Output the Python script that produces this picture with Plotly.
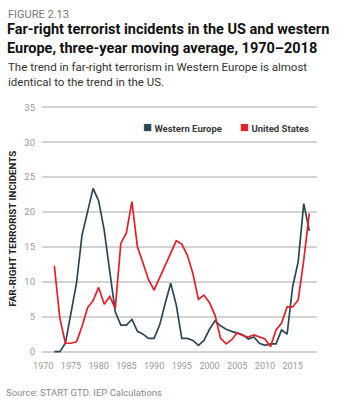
import plotly.graph_objects as go

years = list(range(1972, 2019))
western_europe = [0, 0, 1.2, 5.3, 9.8, 16.7, 20.3, 23.4, 21.6, 17.4,
                  11.5, 5.7, 3.8, 3.8, 4.6, 2.9, 2.5, 1.9, 1.9, 3.8,
                  6.9, 9.8, 6.7, 1.9, 1.9, 1.6, 0.9, 1.6, 3.2, 4.4,
                  3.7, 3.2, 2.9, 2.7, 2.4, 1.8, 2.1, 1.2, 0.9, 1.1,
                  1.1, 3.1, 2.5, 9.3, 12.9, 21.2, 17.3]
united_states = [12.3, 4.8, 1.2, 1.2, 1.4, 3.6, 6.3, 7.3, 9.2, 6.8,
                 7.9, 6.2, 15.5, 17.0, 21.5, 15.0, 12.7, 10.3, 8.8, 10.5,
                 12.2, 14.1, 15.9, 15.4, 13.8, 11.2, 7.5, 8.1, 7.0, 5.2,
                 1.9, 1.1, 1.7, 2.7, 2.3, 2.1, 2.4, 2.1, 1.8, 0.7,
                 3.1, 4.1, 6.4, 6.4, 7.4, 13.1, 19.8]
series_names = ["Western Europe", "United States"]
series_colors = ["#2c4656", "#e2202a"]
x_ticks = [1970, 1975, 1980, 1985, 1990, 1995, 2000, 2005, 2010, 2015]
y_ticks = [0, 5, 10, 15, 20, 25, 30, 35]

FIG_W, FIG_H = 354, 404
L, R, T, B = 41.7, 37.3, 105.9, 50.9
PW, PH = FIG_W - L - R, FIG_H - T - B


def px(x):
    return (x - L) / PW


def py(y):
    return ((FIG_H - B) - y) / PH


fig = go.Figure()
for name, vals, col in zip(series_names, [western_europe, united_states], series_colors):
    fig.add_trace(go.Scatter(x=years, y=vals, mode="lines", name=name,
                             line=dict(color=col, width=1.7), showlegend=False))

font = "Roboto, Arial, sans-serif"
ann = []
ann.append(dict(text="FIGURE 2.13", x=px(6), y=py(14), font=dict(size=11, color="#777777", family=font)))
ann.append(dict(text="<b>Far-right terrorist incidents in the US and western<br>Europe, three-year moving average, 1970–2018</b>",
                x=px(5), y=py(39), font=dict(size=14.5, color="#111111", family=font)))
ann.append(dict(text="The trend in far-right terrorism in Western Europe is almost<br>identical to the trend in the US.",
                x=px(6), y=py(74), font=dict(size=11.5, color="#333333", family=font)))
ann.append(dict(text="Source: START GTD. IEP Calculations", x=px(4), y=py(393),
                font=dict(size=9.5, color="#888888", family=font)))
ann.append(dict(text="<b>FAR-RIGHT TERRORIST INCIDENTS</b>", x=px(12.7), y=py(228.5), textangle=-90,
                xanchor="center", font=dict(size=9.8, color="#222222", family=font)))
legend_x = [141, 238]
for name, col, lx in zip(series_names, series_colors, legend_x):
    ann.append(dict(text=f'<span style="color:{col};font-size:15px">■</span> <b>{name}</b>',
                    x=px(lx), y=py(127), font=dict(size=9.5, color="#3a3a3a", family=font)))
for a in ann:
    a.update(xref="paper", yref="paper", showarrow=False, align="left")
    a.setdefault("xanchor", "left")
    a.setdefault("yanchor", "middle")

fig.update_layout(
    width=FIG_W, height=FIG_H, margin=dict(l=L, r=R, t=T, b=B, autoexpand=False),
    paper_bgcolor="white", plot_bgcolor="white", annotations=ann,
    xaxis=dict(range=[1969.78, 2019.39], tickvals=x_ticks, showgrid=False, zeroline=False,
               showline=False, ticks="", ticklabelstandoff=6,
               tickfont=dict(size=9, color="#999999", family=font)),
    yaxis=dict(range=[-0.2, 35.2], tickvals=y_ticks, showgrid=True, gridcolor="#d3d3d3", gridwidth=1.5,
               zeroline=False, showline=False, ticks="", ticklabelstandoff=6,
               tickfont=dict(size=9.5, color="#999999", family=font)),
)
fig.write_html("out.html")
